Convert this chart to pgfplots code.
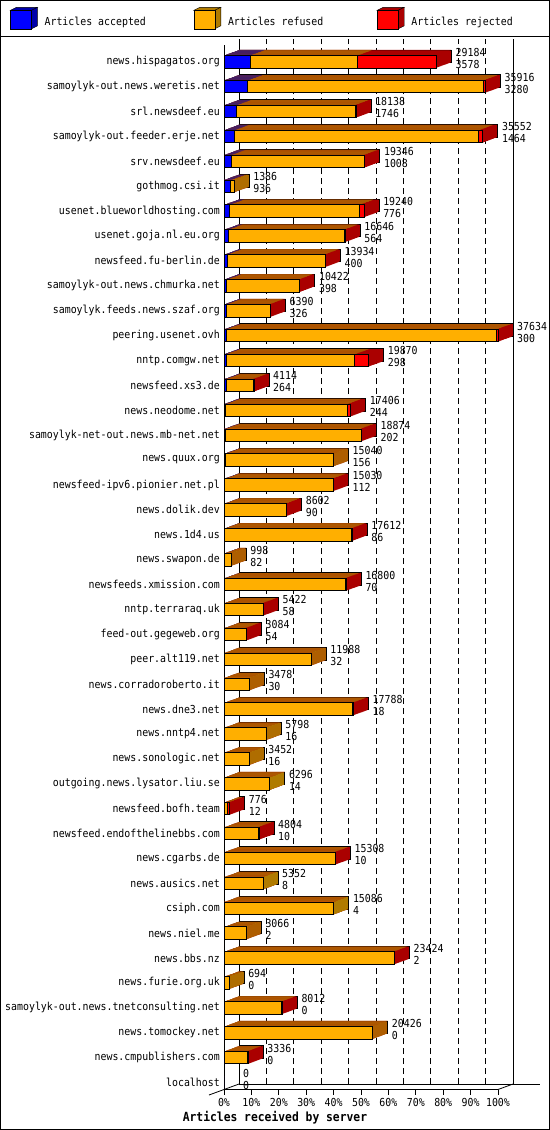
\documentclass[border=0pt]{standalone}
\usepackage{fontspec}
\setmainfont{DejaVu Sans Mono}[FakeStretch=0.9]
\setmonofont{DejaVu Sans Mono}[FakeStretch=0.9]
\usepackage{pgfplots}
\usepackage{pgfplotstable}
\pgfplotsset{compat=1.18}

\definecolor{cAcc}{RGB}{0,0,255}
\definecolor{cAccDk}{RGB}{0,0,170}
\definecolor{cRef}{RGB}{255,175,0}
\definecolor{cRefDk}{RGB}{176,123,0}
\definecolor{cRej}{RGB}{255,0,0}
\definecolor{cRejDk}{RGB}{170,0,0}

\newcommand\lbl{\fontsize{11bp}{11.5bp}\selectfont}

% bottom row first; total = accepted + refused + rejected (rejected)
\pgfplotstableread{
name total acc rej
localhost 0 0 0
news.cmpublishers.com 3336 0 60
news.tomockey.net 20426 0 0
samoylyk-out.news.tnetconsulting.net 8012 0 60
news.furie.org.uk 694 0 0
news.bbs.nz 23424 2 60
news.niel.me 3066 2 0
csiph.com 15086 4 0
news.ausics.net 5352 8 0
news.cgarbs.de 15308 10 60
newsfeed.endofthelinebbs.com 4804 10 60
newsfeed.bofh.team 776 12 250
outgoing.news.lysator.liu.se 6296 14 0
news.sonologic.net 3452 16 0
news.nntp4.net 5798 16 0
news.dne3.net 17788 18 130
news.corradoroberto.it 3478 30 0
peer.alt119.net 11988 32 0
feed-out.gegeweb.org 3084 54 60
nntp.terraraq.uk 5422 58 60
newsfeeds.xmission.com 16800 70 60
news.swapon.de 998 82 0
news.1d4.us 17612 86 140
news.dolik.dev 8602 90 60
newsfeed-ipv6.pionier.net.pl 15030 112 60
news.quux.org 15040 156 0
samoylyk-net-out.news.mb-net.net 18874 202 60
news.neodome.net 17406 244 500
newsfeed.xs3.de 4114 264 60
nntp.comgw.net 19870 298 1920
peering.usenet.ovh 37634 300 230
samoylyk.feeds.news.szaf.org 6390 326 60
samoylyk-out.news.chmurka.net 10422 398 60
newsfeed.fu-berlin.de 13934 400 60
usenet.goja.nl.eu.org 16646 564 60
usenet.blueworldhosting.com 19240 776 690
gothmog.csi.it 1386 936 0
srv.newsdeef.eu 19346 1008 60
samoylyk-out.feeder.erje.net 35552 1464 590
srl.newsdeef.eu 18138 1746 120
samoylyk-out.news.weretis.net 35916 3280 340
news.hispagatos.org 29184 3578 10850
}\servers

\newcommand\legcube[2]{%
  \fill[#2,draw=black] (0bp,11.5bp) -- (6bp,14.5bp) -- (27bp,14.5bp) -- (21bp,11.5bp) -- cycle;
  \fill[#2,draw=black] (21bp,-7bp) -- (27bp,-4bp) -- (27bp,14.5bp) -- (21bp,11.5bp) -- cycle;
  \fill[#1,draw=black] (0bp,-7bp) rectangle (21bp,11.5bp);
  \path (34bp,0bp);
}

\pgfplotsset{
  bar/.style={xbar, bar width=12.5bp, bar shift=0pt, forget plot},
  depth/.style={bar, draw=none, restrict x to domain=1:100000, xshift={#1*1bp}, yshift={#1*0.3667bp}},
  xticks/.style={xtick={0,3763.4,7526.8,11290.2,15053.6,18817,22580.4,26343.8,30107.2,33870.6,37634}},
}

\begin{document}
\begin{tikzpicture}
\useasboundingbox (0,0) rectangle (550bp,-1130bp);

% back wall with dashed grid
\begin{axis}[
  at={(239bp,-1084bp)}, anchor=south west,
  width=274bp, height=1044.8bp, scale only axis,
  xmin=0, xmax=37634, ymin=-0.28, ymax=41.68,
  separate axis lines,
  x axis line style={draw=none},
  y axis line style={line width=0.8bp},
  xtick={3763.4,7526.8,11290.2,15053.6,18817,22580.4,26343.8,30107.2,33870.6},
  scaled x ticks=false,
  xticklabels={}, ytick=\empty, major tick length=0pt,
  xmajorgrids, grid style={black, line width=0.8bp, dash pattern=on 6bp off 4bp},
  clip=false,
]
\draw[line width=0.8bp] (axis description cs:0,0) -- (axis description cs:1.1,0);
\end{axis}

\begin{axis}[
  at={(224bp,-1089.5bp)}, anchor=south west,
  width=274bp, height=1044.8bp, scale only axis,
  xmin=0, xmax=37634, ymin=-0.28, ymax=41.68,
  axis x line*=bottom, axis y line*=left,
  axis line style={-, line width=0.8bp},
  xticks, scaled x ticks=false,
  xticklabels={0\%,10\%,20\%,30\%,40\%,50\%,60\%,70\%,80\%,90\%,100\%},
  tick align=outside, major tick length=5bp,
  xtick style={black, line width=0.8bp},
  ytick={0,...,41}, yticklabels from table={\servers}{name},
  ytick style={draw=none},
  xticklabel style={font=\lbl, inner sep=1.5bp, yshift=-2.5bp},
  yticklabel style={font=\lbl, inner sep=0pt, xshift=1bp},
  xlabel={\fontsize{12.6bp}{13bp}\selectfont\bfseries Articles received by server},
  xlabel style={at={(axis description cs:0.186,-0.0273)}, anchor=center},
  clip=false,
  legend columns=3, legend cell align=left,
  legend style={at={(axis description cs:-0.781,1.0255)}, anchor=west,
    draw=none, fill=none, inner sep=0pt, font=\lbl, nodes={inner sep=0pt}},
]
\addlegendimage{legend image code/.code={\legcube{cAcc}{cAccDk}}}
\addlegendentry{\makebox[149bp][l]{Articles accepted}}
\addlegendimage{legend image code/.code={\legcube{cRef}{cRefDk}}}
\addlegendentry{\makebox[149bp][l]{Articles refused}}
\addlegendimage{legend image code/.code={\legcube{cRej}{cRejDk}}}
\addlegendentry{Articles rejected}

% back face, outlined
\addplot[depth=15, draw=black, line width=0.8bp, fill=cRejDk] table[x=total, y expr=\coordindex] {\servers};
\addplot[depth=15, draw=black, line width=0.8bp, fill=cRefDk] table[x expr={\thisrow{total}-(\thisrow{rej}>0 ? max(\thisrow{rej},250) : 0)}, y expr=\coordindex] {\servers};
\addplot[depth=15, draw=black, line width=0.8bp, fill=cAccDk] table[x=acc, y expr=\coordindex] {\servers};
% extrusion towards the front
\pgfplotsinvokeforeach{14,13,...,1}{
  \addplot[depth=#1, fill=cRejDk] table[x=total, y expr=\coordindex] {\servers};
  \addplot[depth=#1, fill=cRefDk] table[x expr={\thisrow{total}-(\thisrow{rej}>0 ? max(\thisrow{rej},250) : 0)}, y expr=\coordindex] {\servers};
  \addplot[depth=#1, fill=cAccDk] table[x=acc, y expr=\coordindex] {\servers};
}
% front faces
\addplot[bar, draw=black, line width=0.8bp, fill=cRej] table[x=total, y expr=\coordindex] {\servers};
\addplot[bar, draw=black, line width=0.8bp, fill=cRef] table[x expr=\thisrow{total}-\thisrow{rej}, y expr=\coordindex] {\servers};
\addplot[bar, draw=black, line width=0.8bp, fill=cAcc] table[x=acc, y expr=\coordindex] {\servers};

% value labels: total above, accepted below
\addplot[draw=none, mark=none, forget plot, nodes near coords, point meta=explicit symbolic,
  every node near coord/.append style={anchor=west, inner sep=0pt, xshift=19bp, yshift=9.5bp, font=\lbl, text=black}]
  table[x=total, y expr=\coordindex, meta=total] {\servers};
\addplot[draw=none, mark=none, forget plot, nodes near coords, point meta=explicit symbolic,
  every node near coord/.append style={anchor=west, inner sep=0pt, xshift=19bp, yshift=-2.5bp, font=\lbl, text=black}]
  table[x=total, y expr=\coordindex, meta=acc] {\servers};
\end{axis}

% floor edges and frame
\draw[line width=0.8bp] (209bp,-1095bp) -- (239bp,-1084bp);
\draw[line width=0.8bp] (498bp,-1089.5bp) -- (513bp,-1084bp);
\draw[line width=0.8bp] (0bp,-36.5bp) -- (550bp,-36.5bp);
\draw[line width=1bp] (0.5bp,-0.5bp) rectangle (549.5bp,-1129.5bp);
\end{tikzpicture}
\end{document}
